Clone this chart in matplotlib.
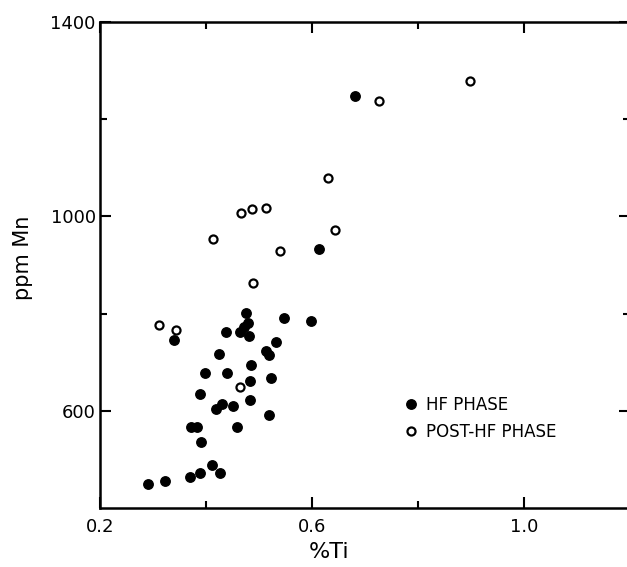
import matplotlib
matplotlib.use("Agg")
import matplotlib.pyplot as plt
from matplotlib.ticker import FixedLocator

# HF phase (filled)
hf_ti = [0.290, 0.323, 0.370, 0.388, 0.412, 0.427, 0.391, 0.371, 0.383, 0.459,
         0.388, 0.419, 0.430, 0.451, 0.483, 0.519, 0.483, 0.522, 0.398, 0.440,
         0.484, 0.425, 0.513, 0.519, 0.532, 0.340, 0.438, 0.464, 0.481, 0.472,
         0.480, 0.475, 0.547, 0.598, 0.614, 0.681]
hf_mn = [449, 455, 463, 471, 488, 471, 536, 566, 567, 566,
         634, 603, 614, 610, 622, 591, 662, 668, 677, 677,
         695, 717, 723, 715, 742, 745, 763, 762, 754, 773,
         780, 802, 790, 785, 932, 1248]

# post-HF phase (open)
post_ti = [0.311, 0.343, 0.464, 0.489, 0.414, 0.466, 0.486, 0.514, 0.540,
           0.644, 0.630, 0.726, 0.899]
post_mn = [777, 767, 648, 863, 954, 1006, 1016, 1017, 929,
           972, 1079, 1238, 1279]

fig = plt.figure(figsize=(6.27, 5.67), dpi=100)
ax = fig.add_axes([100/627, 59/567, 530/627, 486/567])

ax.plot(hf_ti, hf_mn, 'o', color='k', markersize=6.8, linestyle='none',
        label='HF PHASE')
ax.plot(post_ti, post_mn, 'o', markerfacecolor='white', markeredgecolor='k',
        markeredgewidth=1.6, markersize=5.8, linestyle='none',
        label='POST-HF PHASE')

ax.set_xlim(0.2, 1.2)
ax.set_ylim(400, 1400)
ax.xaxis.set_major_locator(FixedLocator([0.2, 0.6, 1.0]))
ax.xaxis.set_minor_locator(FixedLocator([0.4, 0.8]))
ax.yaxis.set_major_locator(FixedLocator([600, 1000, 1400]))
ax.yaxis.set_minor_locator(FixedLocator([800, 1200]))
ax.set_xticklabels(['0.2', '0.6', '1.0'])
ax.set_yticklabels(['600', '1000', '1400'])

ax.tick_params(which='both', direction='in', top=True, right=True, width=1.5,
               labelsize=13)
ax.tick_params(which='major', length=8)
ax.tick_params(which='minor', length=5)
ax.tick_params(axis='x', pad=7)
ax.tick_params(axis='y', pad=3)
for s in ax.spines.values():
    s.set_linewidth(1.8)
ax.spines['right'].set_visible(False)

ax.set_xlabel('%Ti', fontsize=16)
ax.xaxis.set_label_coords(0.432, -0.07)
ax.set_ylabel('ppm Mn', fontsize=15)
ax.yaxis.set_label_coords(-0.126, 0.515)

ax.legend(loc='upper left', bbox_to_anchor=(0.575, 0.23), frameon=False,
          fontsize=12, handlelength=0.8, handletextpad=0.5,
          labelspacing=0.5, borderpad=0, borderaxespad=0)

fig.savefig('out.png', dpi=100)
